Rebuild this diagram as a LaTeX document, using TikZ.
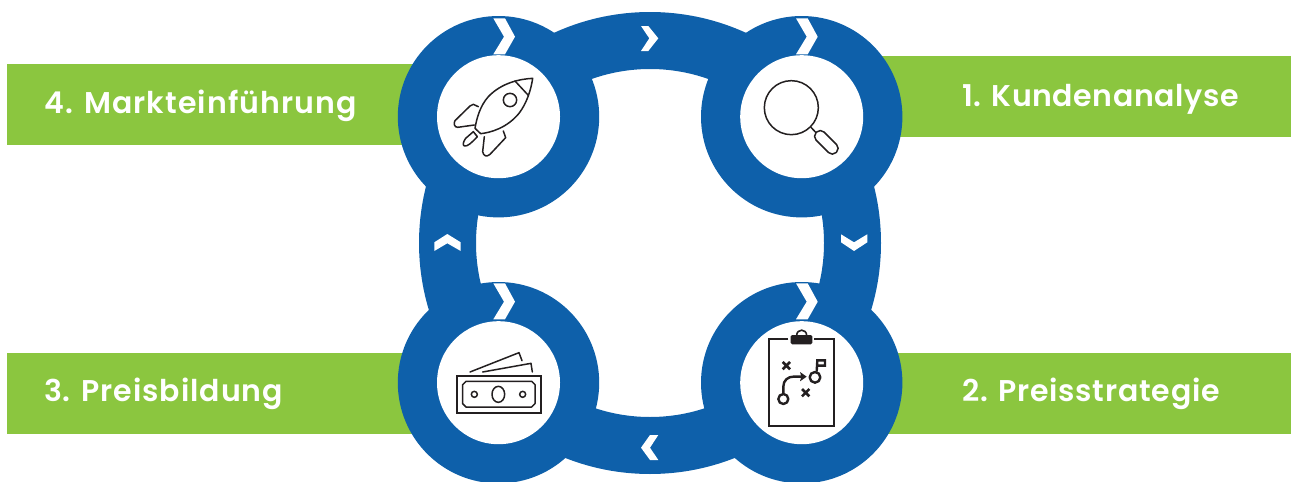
\documentclass[tikz,border=0pt]{standalone}
\usepackage{fontspec}
\setmainfont{Poppins}[BoldFont={Poppins SemiBold}]
\newfontfamily\labelA{Poppins SemiBold}[LetterSpace=2.0]
\newfontfamily\labelB{Poppins SemiBold}[LetterSpace=2.6]
\newfontfamily\labelC{Poppins SemiBold}[LetterSpace=3.2]
\newfontfamily\labelD{Poppins SemiBold}[LetterSpace=3.6]
\definecolor{ringblue}{RGB}{14,96,170}
\definecolor{bargreen}{RGB}{139,198,63}
\definecolor{ink}{RGB}{35,31,32}
\tikzset{
  bar/.style={fill=bargreen,draw=none},
  hubouter/.style={circle,fill=ringblue,draw=none,minimum size=201.4pt,inner sep=0pt,outer sep=0pt},
  hubinner/.style={circle,fill=white,draw=none,minimum size=123pt,inner sep=0pt,outer sep=0pt},
  chev/.style={fill=white,draw=none},
  label/.style={text=white,anchor=base west,inner sep=0pt,outer sep=0pt},
  icon/.style={draw=ink,line width=1.5pt,line join=round,line cap=round},
  zoomed/.style={x=0.33333pt,y=-0.33333pt}
}
\begin{document}
\begin{tikzpicture}[x=1pt,y=-1pt]
\useasboundingbox (0,0) rectangle (1291,482);
% green bars
\fill[bar] (7,64) rectangle (430,145);
\fill[bar] (870,56) rectangle (1291,137);
\fill[bar] (7,353) rectangle (430,434);
\fill[bar] (870,353) rectangle (1291,434);
% ring
\fill[ringblue,even odd rule] (650,243) circle (231) (650,243) circle (174);
% hubs
\node[hubouter] (tlo) at (498.5,116.7) {};
\node[hubouter] (tro) at (801.7,116.7) {};
\node[hubouter] (blo) at (498.5,382.7) {};
\node[hubouter] (bro) at (801.7,382.7) {};
\node[hubinner] (tli) at (tlo) {};
\node[hubinner] (tri) at (tro) {};
\node[hubinner] (bli) at (blo) {};
\node[hubinner] (bri) at (bro) {};
% big chevrons
\foreach \dx/\dy in {0/0,302.7/0,0/265,302.7/265}{
  \fill[chev,shift={(\dx,\dy)}] (493.3,18.3) -- (505,18.3) -- (515,36.7) -- (505,54.3) -- (493.3,54.3) -- (504,36.7) -- cycle;
}
% small chevrons
\fill[chev] (641,26) -- (648.3,26) -- (658.3,38.3) -- (648.3,51) -- (641,51) -- (649.3,38.3) -- cycle;
\fill[chev] (650,435) -- (658.3,435) -- (650,447.7) -- (658.3,460) -- (650,460) -- (641,447.7) -- cycle;
\fill[chev] (434.3,242.3) -- (447.3,234) -- (460.7,242.3) -- (460.7,251) -- (447.3,243.3) -- (434.3,251) -- cycle;
\fill[chev] (841,234.3) -- (854,242.3) -- (867.3,234.3) -- (867.3,242.3) -- (854,251) -- (841,242.3) -- cycle;
% rocket
\begin{scope}[shift={(445,70)},zoomed]
\draw[icon] (263,25) .. controls (225,27) and (170,38) .. (130,80) .. controls (105,108) and (95,145) .. (90,175) -- (107,191) .. controls (135,188) and (185,175) .. (222,130) .. controls (245,100) and (258,60) .. (263,25) -- cycle;
\draw[icon] (210,33) -- (250,76);
\draw[icon] (195,90) circle (20);
\draw[icon] (100,110) -- (85,103) .. controls (80,103) and (78,105) .. (75,108) -- (30,152) .. controls (25,160) and (28,172) .. (38,172) -- (88,165);
\draw[icon] (175,183) -- (182,203) -- (135,253) .. controls (125,262) and (115,258) .. (113,245) -- (118,200);
\draw[icon] (85,185) -- (62,205) .. controls (55,215) and (52,225) .. (58,228) .. controls (68,230) and (80,218) .. (97,200) -- cycle;
\end{scope}
% magnifier
\begin{scope}[shift={(650,0)},zoomed]
\draw[icon] (424,323) circle (81);
\draw[icon] (483,382) -- (497,397);
\draw[icon,rounded corners=5.3pt] (511,385) -- (571,445) -- (547,469) -- (487,409) -- cycle;
\end{scope}
% money
\begin{scope}[shift={(390,240)},zoomed]
\draw[icon,line width=1.7pt,line cap=butt,line join=miter] (200,407) rectangle (452,519);
\draw[icon] (228,424) -- (425,424) -- (435,434) -- (435,491) -- (425,501) -- (228,501) -- (218,491) -- (218,434) -- cycle;
\draw[icon] (253,463) circle (9);
\draw[icon] (325,463) ellipse (19 and 24);
\draw[icon] (398,463) circle (9);
\draw[icon] (240,396) -- (387,338) -- (396,362);
\draw[icon] (278,396) -- (423,370) -- (427,396);
\end{scope}
% clipboard
\begin{scope}[shift={(760,325)},zoomed]
\draw[icon,line width=2pt,line cap=butt,line join=miter] (85,42) -- (28,42) -- (28,302) -- (222,302) -- (222,42) -- (162,42);
\fill[ink,rounded corners=1.5pt] (92,30) rectangle (157,58);
\draw[icon,line width=1.6pt] (110,32) .. controls (110,10) and (140,10) .. (140,32);
\draw[icon,line width=2.6pt,line cap=butt] (68,111) -- (90,133) (90,111) -- (68,133);
\draw[icon,line width=2.6pt,line cap=butt] (126,192) -- (148,214) (148,192) -- (126,214);
\draw[icon,line width=2.4pt] (70,222) circle (15);
\draw[icon,line width=2.4pt,line cap=butt] (70,206) -- (70,185) .. controls (70,165) and (85,155) .. (100,155) -- (125,155);
\fill[ink] (120,141) -- (140,155) -- (120,169) -- (124,155) -- cycle;
\draw[icon,line width=2.4pt] (165,157) circle (16);
\draw[icon,line width=2.4pt,line cap=butt,line join=miter] (170,140) -- (172,106) -- (195,106) -- (195,122) -- (172,122);
\end{scope}
% labels
\node[label,font=\labelA\fontsize{30pt}{32pt}\selectfont] (l1) at (962,106.5) {1. Kundenanalyse};
\node[label,font=\labelB\fontsize{30pt}{32pt}\selectfont] (l2) at (962,401.5) {2. Preisstrategie};
\node[label,font=\labelC\fontsize{30pt}{32pt}\selectfont] (l3) at (44,401.5) {3. Preisbildung};
\node[label,font=\labelD\fontsize{30pt}{32pt}\selectfont] (l4) at (44.5,113) {4. Markteinführung};
\end{tikzpicture}
\end{document}
